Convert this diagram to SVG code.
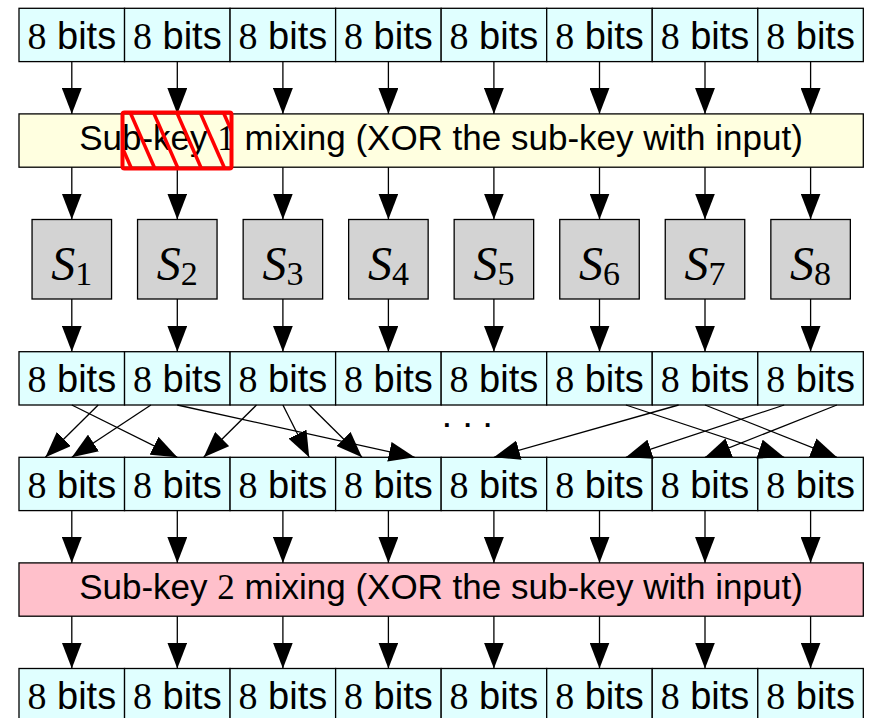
<svg xmlns="http://www.w3.org/2000/svg" width="871" height="718" viewBox="0 0 871 718">
<defs>
<style>
.cell{fill:#e0ffff;stroke:#000;stroke-width:1.3}
.sk1{fill:#ffffe0;stroke:#000;stroke-width:1.3}
.sk2{fill:#ffc0cb;stroke:#000;stroke-width:1.3}
.sb{fill:#d3d3d3;stroke:#000;stroke-width:1.3}
.t{font-family:"Liberation Sans",Arial,sans-serif;font-size:38px;fill:#000;text-anchor:middle}
.ts{font-family:"Liberation Sans",Arial,sans-serif;font-size:35px;fill:#000;text-anchor:middle}
.m{font-family:"Liberation Serif","Times New Roman",serif}
.si{font-family:"Liberation Serif","Times New Roman",serif;font-size:48px;fill:#000;text-anchor:middle}
.ar{stroke:#000;stroke-width:1.3;fill:none;marker-end:url(#ah)}
.hatch{stroke:#ff0000;stroke-width:3.5}
</style>
<marker id="ah" markerUnits="userSpaceOnUse" markerWidth="27" markerHeight="20" refX="26" refY="10" orient="auto" viewBox="0 0 27 20">
<path d="M0,0 L26,10 L0,20 Z" fill="#000"/>
</marker>
<clipPath id="rc"><rect x="122.5" y="112.5" width="109" height="56"/></clipPath>
</defs>
<rect width="871" height="718" fill="#fff"/>

<g id="row1">
<g id="r1c1"><rect class="cell" x="19" y="8.3" width="105.54" height="53.3"/><text class="t" x="71.8" y="48.5"><tspan class="m">8</tspan> bits</text></g>
<g id="r1c2"><rect class="cell" x="124.54" y="8.3" width="105.54" height="53.3"/><text class="t" x="177.3" y="48.5"><tspan class="m">8</tspan> bits</text></g>
<g id="r1c3"><rect class="cell" x="230.08" y="8.3" width="105.54" height="53.3"/><text class="t" x="282.9" y="48.5"><tspan class="m">8</tspan> bits</text></g>
<g id="r1c4"><rect class="cell" x="335.62" y="8.3" width="105.54" height="53.3"/><text class="t" x="388.4" y="48.5"><tspan class="m">8</tspan> bits</text></g>
<g id="r1c5"><rect class="cell" x="441.16" y="8.3" width="105.54" height="53.3"/><text class="t" x="493.9" y="48.5"><tspan class="m">8</tspan> bits</text></g>
<g id="r1c6"><rect class="cell" x="546.7" y="8.3" width="105.54" height="53.3"/><text class="t" x="599.5" y="48.5"><tspan class="m">8</tspan> bits</text></g>
<g id="r1c7"><rect class="cell" x="652.24" y="8.3" width="105.54" height="53.3"/><text class="t" x="705.0" y="48.5"><tspan class="m">8</tspan> bits</text></g>
<g id="r1c8"><rect class="cell" x="757.78" y="8.3" width="105.54" height="53.3"/><text class="t" x="810.6" y="48.5"><tspan class="m">8</tspan> bits</text></g>
</g>

<g id="subkey1"><rect class="sk1" x="19" y="113.9" width="844.3" height="53.3"/><text class="ts" x="441" y="150">Sub-key <tspan class="m">1</tspan> mixing (XOR the sub-key with input)</text></g>

<g id="sboxes">
<g id="S1"><rect class="sb" x="32.05" y="219.5" width="79.5" height="79.5"/><text class="si" x="71.8" y="280"><tspan font-style="italic">S</tspan><tspan font-size="34" dy="5">1</tspan></text></g>
<g id="S2"><rect class="sb" x="137.55" y="219.5" width="79.5" height="79.5"/><text class="si" x="177.3" y="280"><tspan font-style="italic">S</tspan><tspan font-size="34" dy="5">2</tspan></text></g>
<g id="S3"><rect class="sb" x="243.15" y="219.5" width="79.5" height="79.5"/><text class="si" x="282.9" y="280"><tspan font-style="italic">S</tspan><tspan font-size="34" dy="5">3</tspan></text></g>
<g id="S4"><rect class="sb" x="348.65" y="219.5" width="79.5" height="79.5"/><text class="si" x="388.4" y="280"><tspan font-style="italic">S</tspan><tspan font-size="34" dy="5">4</tspan></text></g>
<g id="S5"><rect class="sb" x="454.15" y="219.5" width="79.5" height="79.5"/><text class="si" x="493.9" y="280"><tspan font-style="italic">S</tspan><tspan font-size="34" dy="5">5</tspan></text></g>
<g id="S6"><rect class="sb" x="559.75" y="219.5" width="79.5" height="79.5"/><text class="si" x="599.5" y="280"><tspan font-style="italic">S</tspan><tspan font-size="34" dy="5">6</tspan></text></g>
<g id="S7"><rect class="sb" x="665.25" y="219.5" width="79.5" height="79.5"/><text class="si" x="705.0" y="280"><tspan font-style="italic">S</tspan><tspan font-size="34" dy="5">7</tspan></text></g>
<g id="S8"><rect class="sb" x="770.85" y="219.5" width="79.5" height="79.5"/><text class="si" x="810.6" y="280"><tspan font-style="italic">S</tspan><tspan font-size="34" dy="5">8</tspan></text></g>
</g>

<g id="row3">
<g id="r3c1"><rect class="cell" x="19" y="351.7" width="105.54" height="53.3"/><text class="t" x="71.8" y="391.9"><tspan class="m">8</tspan> bits</text></g>
<g id="r3c2"><rect class="cell" x="124.54" y="351.7" width="105.54" height="53.3"/><text class="t" x="177.3" y="391.9"><tspan class="m">8</tspan> bits</text></g>
<g id="r3c3"><rect class="cell" x="230.08" y="351.7" width="105.54" height="53.3"/><text class="t" x="282.9" y="391.9"><tspan class="m">8</tspan> bits</text></g>
<g id="r3c4"><rect class="cell" x="335.62" y="351.7" width="105.54" height="53.3"/><text class="t" x="388.4" y="391.9"><tspan class="m">8</tspan> bits</text></g>
<g id="r3c5"><rect class="cell" x="441.16" y="351.7" width="105.54" height="53.3"/><text class="t" x="493.9" y="391.9"><tspan class="m">8</tspan> bits</text></g>
<g id="r3c6"><rect class="cell" x="546.7" y="351.7" width="105.54" height="53.3"/><text class="t" x="599.5" y="391.9"><tspan class="m">8</tspan> bits</text></g>
<g id="r3c7"><rect class="cell" x="652.24" y="351.7" width="105.54" height="53.3"/><text class="t" x="705.0" y="391.9"><tspan class="m">8</tspan> bits</text></g>
<g id="r3c8"><rect class="cell" x="757.78" y="351.7" width="105.54" height="53.3"/><text class="t" x="810.6" y="391.9"><tspan class="m">8</tspan> bits</text></g>
</g>

<g id="row4">
<g id="r4c1"><rect class="cell" x="19" y="457.3" width="105.54" height="53.3"/><text class="t" x="71.8" y="497.5"><tspan class="m">8</tspan> bits</text></g>
<g id="r4c2"><rect class="cell" x="124.54" y="457.3" width="105.54" height="53.3"/><text class="t" x="177.3" y="497.5"><tspan class="m">8</tspan> bits</text></g>
<g id="r4c3"><rect class="cell" x="230.08" y="457.3" width="105.54" height="53.3"/><text class="t" x="282.9" y="497.5"><tspan class="m">8</tspan> bits</text></g>
<g id="r4c4"><rect class="cell" x="335.62" y="457.3" width="105.54" height="53.3"/><text class="t" x="388.4" y="497.5"><tspan class="m">8</tspan> bits</text></g>
<g id="r4c5"><rect class="cell" x="441.16" y="457.3" width="105.54" height="53.3"/><text class="t" x="493.9" y="497.5"><tspan class="m">8</tspan> bits</text></g>
<g id="r4c6"><rect class="cell" x="546.7" y="457.3" width="105.54" height="53.3"/><text class="t" x="599.5" y="497.5"><tspan class="m">8</tspan> bits</text></g>
<g id="r4c7"><rect class="cell" x="652.24" y="457.3" width="105.54" height="53.3"/><text class="t" x="705.0" y="497.5"><tspan class="m">8</tspan> bits</text></g>
<g id="r4c8"><rect class="cell" x="757.78" y="457.3" width="105.54" height="53.3"/><text class="t" x="810.6" y="497.5"><tspan class="m">8</tspan> bits</text></g>
</g>

<g id="subkey2"><rect class="sk2" x="19" y="562.9" width="844.3" height="53.3"/><text class="ts" x="441" y="599">Sub-key <tspan class="m">2</tspan> mixing (XOR the sub-key with input)</text></g>

<g id="row6">
<g id="r6c1"><rect class="cell" x="19" y="668.5" width="105.54" height="53.3"/><text class="t" x="71.8" y="708.7"><tspan class="m">8</tspan> bits</text></g>
<g id="r6c2"><rect class="cell" x="124.54" y="668.5" width="105.54" height="53.3"/><text class="t" x="177.3" y="708.7"><tspan class="m">8</tspan> bits</text></g>
<g id="r6c3"><rect class="cell" x="230.08" y="668.5" width="105.54" height="53.3"/><text class="t" x="282.9" y="708.7"><tspan class="m">8</tspan> bits</text></g>
<g id="r6c4"><rect class="cell" x="335.62" y="668.5" width="105.54" height="53.3"/><text class="t" x="388.4" y="708.7"><tspan class="m">8</tspan> bits</text></g>
<g id="r6c5"><rect class="cell" x="441.16" y="668.5" width="105.54" height="53.3"/><text class="t" x="493.9" y="708.7"><tspan class="m">8</tspan> bits</text></g>
<g id="r6c6"><rect class="cell" x="546.7" y="668.5" width="105.54" height="53.3"/><text class="t" x="599.5" y="708.7"><tspan class="m">8</tspan> bits</text></g>
<g id="r6c7"><rect class="cell" x="652.24" y="668.5" width="105.54" height="53.3"/><text class="t" x="705.0" y="708.7"><tspan class="m">8</tspan> bits</text></g>
<g id="r6c8"><rect class="cell" x="757.78" y="668.5" width="105.54" height="53.3"/><text class="t" x="810.6" y="708.7"><tspan class="m">8</tspan> bits</text></g>
</g>

<g id="connectors">
<path class="ar" d="M71.8,61.6V113.9"/><path class="ar" d="M177.3,61.6V113.9"/><path class="ar" d="M282.9,61.6V113.9"/><path class="ar" d="M388.4,61.6V113.9"/><path class="ar" d="M493.9,61.6V113.9"/><path class="ar" d="M599.5,61.6V113.9"/><path class="ar" d="M705,61.6V113.9"/><path class="ar" d="M810.6,61.6V113.9"/>
<path class="ar" d="M71.8,167.2V219.5"/><path class="ar" d="M177.3,167.2V219.5"/><path class="ar" d="M282.9,167.2V219.5"/><path class="ar" d="M388.4,167.2V219.5"/><path class="ar" d="M493.9,167.2V219.5"/><path class="ar" d="M599.5,167.2V219.5"/><path class="ar" d="M705,167.2V219.5"/><path class="ar" d="M810.6,167.2V219.5"/>
<path class="ar" d="M71.8,299V351.7"/><path class="ar" d="M177.3,299V351.7"/><path class="ar" d="M282.9,299V351.7"/><path class="ar" d="M388.4,299V351.7"/><path class="ar" d="M493.9,299V351.7"/><path class="ar" d="M599.5,299V351.7"/><path class="ar" d="M705,299V351.7"/><path class="ar" d="M810.6,299V351.7"/>
<path class="ar" d="M71.8,510.6V562.9"/><path class="ar" d="M177.3,510.6V562.9"/><path class="ar" d="M282.9,510.6V562.9"/><path class="ar" d="M388.4,510.6V562.9"/><path class="ar" d="M493.9,510.6V562.9"/><path class="ar" d="M599.5,510.6V562.9"/><path class="ar" d="M705,510.6V562.9"/><path class="ar" d="M810.6,510.6V562.9"/>
<path class="ar" d="M71.8,616.2V668.5"/><path class="ar" d="M177.3,616.2V668.5"/><path class="ar" d="M282.9,616.2V668.5"/><path class="ar" d="M388.4,616.2V668.5"/><path class="ar" d="M493.9,616.2V668.5"/><path class="ar" d="M599.5,616.2V668.5"/><path class="ar" d="M705,616.2V668.5"/><path class="ar" d="M810.6,616.2V668.5"/>
<path class="ar" d="M98.2,405L45.4,457.3"/>
<path class="ar" d="M71.8,405L177.3,457.3"/>
<path class="ar" d="M150.9,405L71.8,457.3"/>
<path class="ar" d="M177.3,405L414.8,457.3"/>
<path class="ar" d="M256.5,405L203.7,457.3"/>
<path class="ar" d="M282.9,405L309.2,457.3"/>
<path class="ar" d="M309.2,405L362,457.3"/>
<path class="ar" d="M678.6,405L493.9,457.3"/>
<path class="ar" d="M784.2,405L625.9,457.3"/>
<path class="ar" d="M836.9,405L705,457.3"/>
<path class="ar" d="M625.9,405L784.2,457.3"/>
<path class="ar" d="M705,405L836.9,457.3"/>
</g>

<text x="447.7 468.3 488.3" y="434" font-family="Liberation Sans, Arial, sans-serif" font-size="26" font-weight="bold" text-anchor="middle" fill="#000">···</text>

<g id="redaction">
<g clip-path="url(#rc)" class="hatch">
<line x1="83.4" y1="112" x2="108.4" y2="169"/>
<line x1="106.7" y1="112" x2="131.7" y2="169"/>
<line x1="130" y1="112" x2="155" y2="169"/>
<line x1="153.3" y1="112" x2="178.3" y2="169"/>
<line x1="176.6" y1="112" x2="201.6" y2="169"/>
<line x1="199.9" y1="112" x2="224.9" y2="169"/>
<line x1="223.2" y1="112" x2="248.2" y2="169"/>
</g>
<rect x="122.5" y="112.5" width="109" height="56" rx="2" fill="none" stroke="#ff0000" stroke-width="4"/>
</g>
</svg>
